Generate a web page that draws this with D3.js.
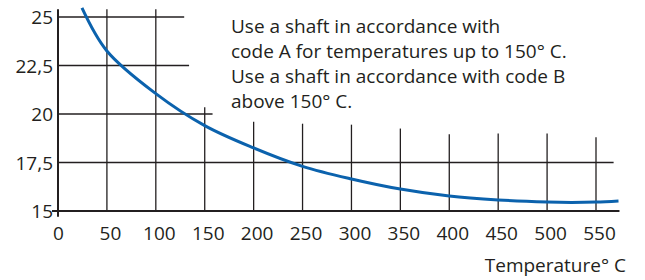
<!DOCTYPE html>
<html>
<head>
<meta charset="utf-8">
<script src="https://cdn.jsdelivr.net/npm/d3@7"></script>
<style>
  body { margin: 0; background: #fff; }
  text { font-family: "Open Sans", "Noto Sans", sans-serif; fill: #231f20; }
</style>
</head>
<body>
<svg id="chart"></svg>
<script>
const xTicks = [0, 50, 100, 150, 200, 250, 300, 350, 400, 450, 500, 550];
const yTicks = [15, 17.5, 20, 22.5, 25];

// curve: [temperature, value]
const curveTemp = [24.5, 50, 100, 150, 200, 250, 300, 350, 400, 450, 500, 525, 550, 573];
const curveVal = [25.47, 23.25, 21.05, 19.4, 18.25, 17.3, 16.65, 16.13, 15.77, 15.57, 15.46, 15.44, 15.46, 15.52];

// grid extents (horizontal lines end at temperature, vertical lines rise to value)
const hGridY = [17.5, 20, 22.5, 25];
const hGridEnd = [568, 158, 134, 129];
const vGridX = [50, 100, 150, 200, 250, 300, 350, 400, 450, 500, 550];
const vGridTop = [25.4, 25.4, 20.35, 19.6, 19.5, 19.45, 19.25, 18.95, 19.0, 19.0, 18.8];

const note = [
  "Use a shaft in accordance with",
  "code A for temperatures up to 150° C.",
  "Use a shaft in accordance with code B",
  "above 150° C."
];

const width = 645;
const height = 280;
const fontSize = 19;

const svg = d3.select("#chart").attr("width", width).attr("height", height);

const x = d3.scaleLinear().domain([0, 550]).range([58, 596]);
const y = d3.scaleLinear().domain([15, 25]).range([211, 17]);

const ink = "#231f20";

// grid
svg.append("g")
  .selectAll("line")
  .data(hGridY.map((v, i) => ({ v, end: hGridEnd[i] })))
  .join("line")
  .attr("x1", x(0)).attr("x2", (d) => x(d.end))
  .attr("y1", (d) => y(d.v)).attr("y2", (d) => y(d.v))
  .attr("stroke", ink).attr("stroke-width", 1.3);

svg.append("g")
  .selectAll("line")
  .data(vGridX.map((v, i) => ({ v, top: vGridTop[i] })))
  .join("line")
  .attr("x1", (d) => x(d.v)).attr("x2", (d) => x(d.v))
  .attr("y1", (d) => y(d.top)).attr("y2", y(15))
  .attr("stroke", ink).attr("stroke-width", 1.3);

// axis lines
svg.append("line")
  .attr("x1", x(0)).attr("x2", x(0))
  .attr("y1", y(25.4)).attr("y2", y(14.7))
  .attr("stroke", ink).attr("stroke-width", 2);
svg.append("line")
  .attr("x1", x(0) - 6).attr("x2", x(574))
  .attr("y1", y(15)).attr("y2", y(15))
  .attr("stroke", ink).attr("stroke-width", 2);

// tick labels
const yAxis = svg.append("g")
  .attr("transform", `translate(${x(0) - 5},0)`)
  .call(d3.axisLeft(y).tickValues(yTicks).tickSize(0).tickPadding(0)
    .tickFormat((d) => String(d).replace(".", ",")));
yAxis.select(".domain").remove();
yAxis.selectAll("text")
  .attr("font-size", fontSize).attr("font-family", null).attr("fill", ink)
  .attr("dy", "0.36em");

const xAxis = svg.append("g")
  .attr("transform", `translate(0,${y(15)})`)
  .call(d3.axisBottom(x).tickValues(xTicks).tickSize(0).tickPadding(16));
xAxis.select(".domain").remove();
xAxis.selectAll("text")
  .attr("font-size", fontSize).attr("font-family", null).attr("fill", ink)
  .attr("dx", (d) => (d === 0 ? 0 : 3));

svg.append("text")
  .attr("x", 626).attr("y", 272)
  .attr("text-anchor", "end")
  .attr("font-size", fontSize)
  .text("Temperature° C");

// curve
const line = d3.line()
  .x((d) => x(d[0]))
  .y((d) => y(d[1]))
  .curve(d3.curveCatmullRom);

svg.append("path")
  .datum(curveTemp.map((t, i) => [t, curveVal[i]]))
  .attr("d", line)
  .attr("fill", "none")
  .attr("stroke", "#0b62ad")
  .attr("stroke-width", 3);

// note
svg.append("g")
  .selectAll("text")
  .data(note)
  .join("text")
  .attr("x", 231)
  .attr("y", (d, i) => 33 + i * 25)
  .attr("font-size", fontSize)
  .text((d) => d);
</script>
</body>
</html>
